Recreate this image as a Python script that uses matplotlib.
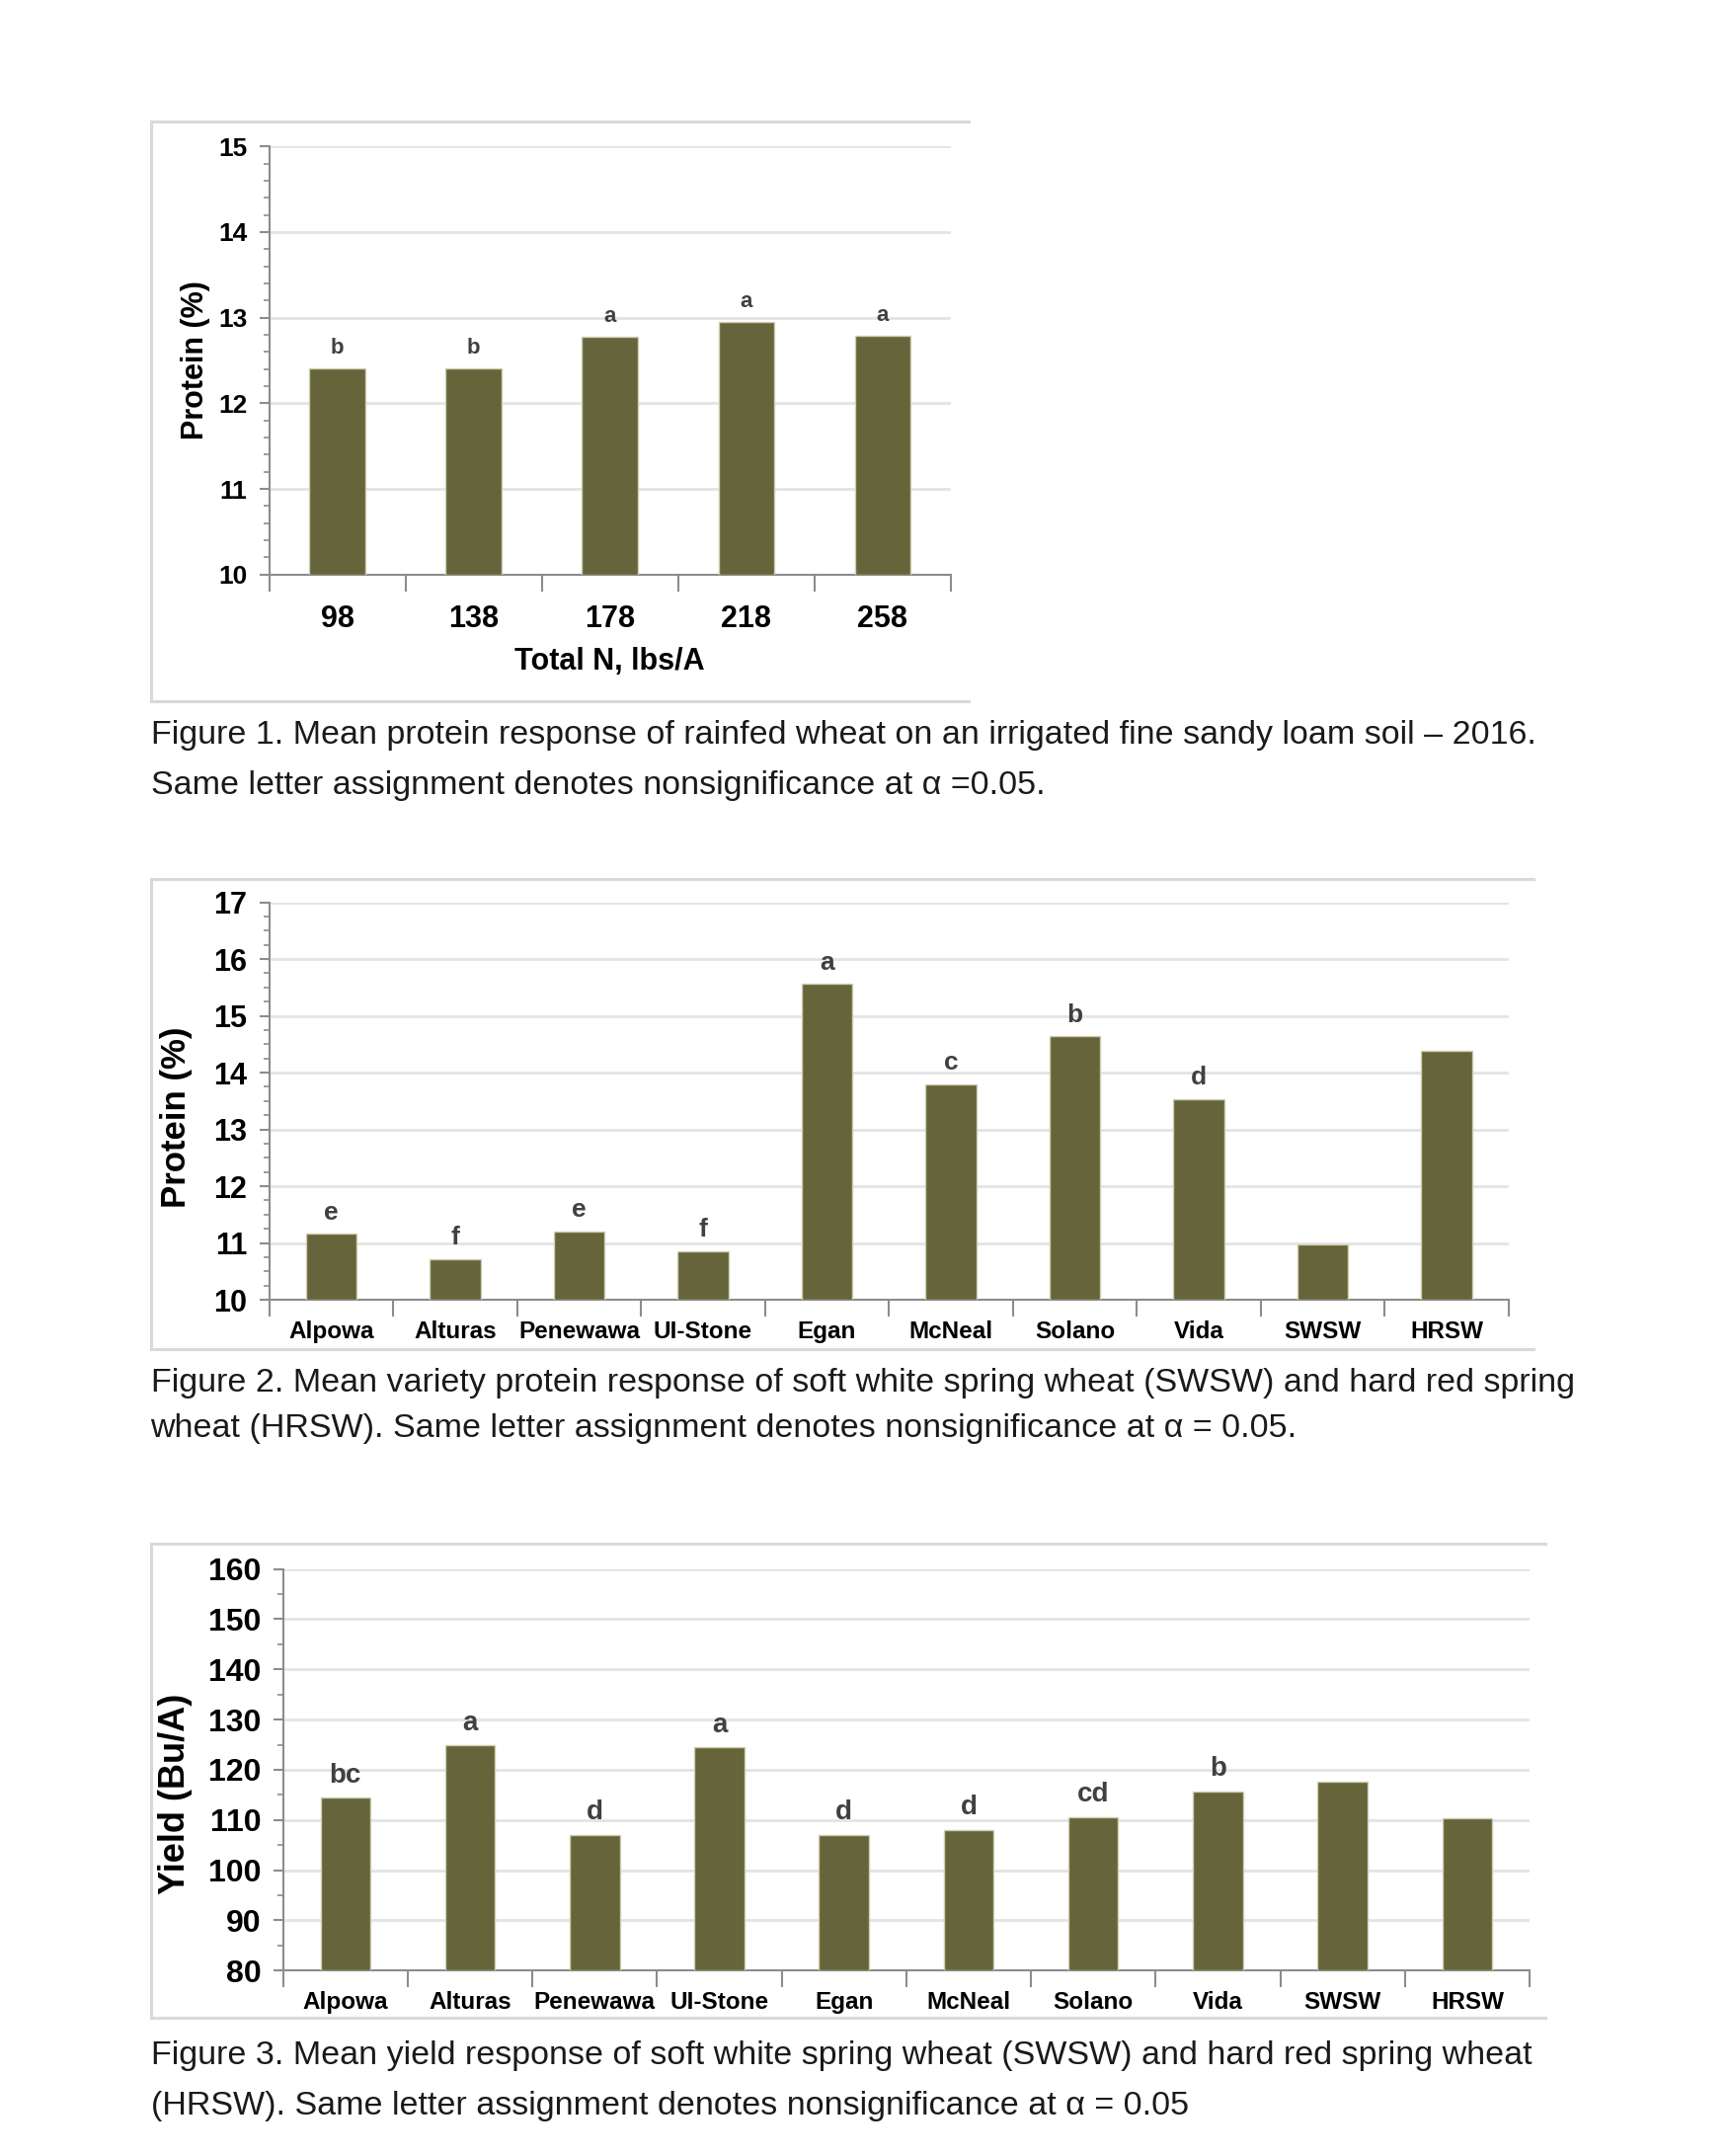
import matplotlib
matplotlib.use("Agg")
import matplotlib.pyplot as plt
from matplotlib.ticker import MultipleLocator, FixedLocator, NullFormatter
from matplotlib.lines import Line2D
from matplotlib import font_manager

# ---------------- data ----------------
n_rates = ["98", "138", "178", "218", "258"]
protein_by_n = [12.41, 12.41, 12.78, 12.95, 12.79]
letters_n = ["b", "b", "a", "a", "a"]

varieties = ["Alpowa", "Alturas", "Penewawa", "UI-Stone", "Egan",
             "McNeal", "Solano", "Vida", "SWSW", "HRSW"]
protein_by_var = [11.16, 10.72, 11.20, 10.86, 15.56, 13.79, 14.64, 13.54, 10.97, 14.39]
letters_prot = ["e", "f", "e", "f", "a", "c", "b", "d", "", ""]

yield_by_var = [114.4, 124.85, 107.1, 124.45, 107.0, 108.0, 110.6, 115.75, 117.7, 110.4]
letters_yield = ["bc", "a", "d", "a", "d", "d", "cd", "b", "", ""]

captions = [
    ["Figure 1. Mean protein response of rainfed wheat on an irrigated fine sandy loam soil \u2013 2016.",
     "Same letter assignment denotes nonsignificance at \u03b1 =0.05."],
    ["Figure 2. Mean variety protein response of soft white spring wheat (SWSW) and hard red spring",
     "wheat (HRSW). Same letter assignment denotes nonsignificance at \u03b1 = 0.05."],
    ["Figure 3. Mean yield response of soft white spring wheat (SWSW) and hard red spring wheat",
     "(HRSW). Same letter assignment denotes nonsignificance at \u03b1 = 0.05"],
]

# ---------------- style ----------------
names = {f.name for f in font_manager.fontManager.ttflist}
NARROW = "Liberation Sans Narrow" if "Liberation Sans Narrow" in names else "Liberation Sans"
FAM = [NARROW, "DejaVu Sans"]
ARIAL = ["Liberation Sans", "DejaVu Sans"]
BAR = "#66643A"
BAR_EDGE = "#cfceb0"
GRID = "#e4e4e4"
SPINE = "#8c8c8c"
LETTER = "#404040"

W, H = 1751, 2183
fig = plt.figure(figsize=(W / 100, H / 100), dpi=100)
fig.patch.set_facecolor("white")


def px_axes(l, r, t, b):
    return fig.add_axes([l / W, 1 - b / H, (r - l) / W, (b - t) / H])


def frame(l, r, t, b):
    c = "#d9d9d9"
    for xs, ys in [((l, r), (t, t)), ((l, l), (t, b)), ((l, r), (b, b))]:
        fig.add_artist(Line2D([x / W for x in xs], [1 - y / H for y in ys],
                              color=c, lw=2.2, transform=fig.transFigure))


def style_axes(ax, cats, vals, letters, ylim, major, minor, ytick_fs, xtick_fs,
               let_fs, xpad, ylabel, ylab_fs, ylab_x, ylab_y, bar_w):
    x = list(range(len(cats)))
    ax.bar(x, [v - ylim[0] for v in vals], bottom=ylim[0], width=bar_w,
           color=BAR, zorder=3, edgecolor=BAR_EDGE, linewidth=1.0)
    for xi, v, l in zip(x, vals, letters):
        if l:
            ax.annotate(l, (xi, v), xytext=(0, 7), textcoords="offset points",
                        ha="center", va="bottom", fontsize=let_fs,
                        family=FAM, fontweight="bold", color=LETTER)
    ax.set_xlim(-0.5, len(cats) - 0.5)
    ax.set_ylim(*ylim)
    ax.yaxis.set_major_locator(MultipleLocator(major))
    ax.yaxis.set_minor_locator(MultipleLocator(minor))
    ax.yaxis.grid(True, which="major", color=GRID, lw=2.0, zorder=0)
    ax.set_xticks(x)
    ax.set_xticklabels(cats)
    ax.xaxis.set_minor_locator(FixedLocator([i - 0.5 for i in range(len(cats) + 1)]))
    ax.xaxis.set_minor_formatter(NullFormatter())
    ax.tick_params(axis="x", which="major", length=0, pad=xpad, labelsize=xtick_fs)
    ax.tick_params(axis="x", which="minor", length=12, width=1.5, color=SPINE, direction="out")
    ax.tick_params(axis="y", which="major", length=7, width=1.5, color=SPINE,
                   pad=9, labelsize=ytick_fs)
    ax.tick_params(axis="y", which="minor", length=4, width=1.2, color=SPINE)
    for lab in ax.get_xticklabels() + ax.get_yticklabels():
        lab.set_family(FAM)
        lab.set_fontweight("bold")
    for s in ["top", "right"]:
        ax.spines[s].set_visible(False)
    for s in ["left", "bottom"]:
        ax.spines[s].set_color(SPINE)
        ax.spines[s].set_linewidth(1.5)
    ax.set_ylabel(ylabel, family=ARIAL, fontweight="bold", fontsize=ylab_fs)
    ax.yaxis.set_label_coords(ylab_x, ylab_y)
    ax.set_axisbelow(True)


# ---------- chart 1 ----------
frame(152.5, 981, 123, 710)
ax1 = px_axes(272.5, 963, 148.3, 581.8)
style_axes(ax1, n_rates, protein_by_n, letters_n, (10, 15), 1, 0.2,
           19, 22, 16, 22, "Protein (%)", 22, -0.086, 0.5, 0.41)
ax1.set_xlabel("Total N, lbs/A", family=FAM, fontweight="bold", fontsize=22, labelpad=9)

# ---------- chart 2 ----------
frame(152.5, 1553, 889.6, 1365.5)
ax2 = px_axes(272.5, 1528, 913.6, 1316)
style_axes(ax2, varieties, protein_by_var, letters_prot, (10, 17), 1, 0.25,
           22, 17.5, 19, 15, "Protein (%)", 25, -0.062, 0.46, 0.41)

# ---------- chart 3 ----------
frame(152.5, 1564.6, 1563.2, 2043.3)
ax3 = px_axes(286.7, 1549, 1588.6, 1995.3)
style_axes(ax3, varieties, yield_by_var, letters_yield, (80, 160), 10, 5,
           23, 17.5, 20, 15, "Yield (Bu/A)", 26, -0.0727, 0.44, 0.40)

# ---------- captions ----------
cap_y = [(744, 795), (1401, 1446), (2081.5, 2132.3)]
for lines, ys in zip(captions, cap_y):
    for line, y in zip(lines, ys):
        fig.text(152.5 / W, 1 - y / H, line, ha="left", va="center",
                 fontsize=24.5, family=FAM, color="#1a1a1a")

fig.savefig("out.png", dpi=100, facecolor="white")
